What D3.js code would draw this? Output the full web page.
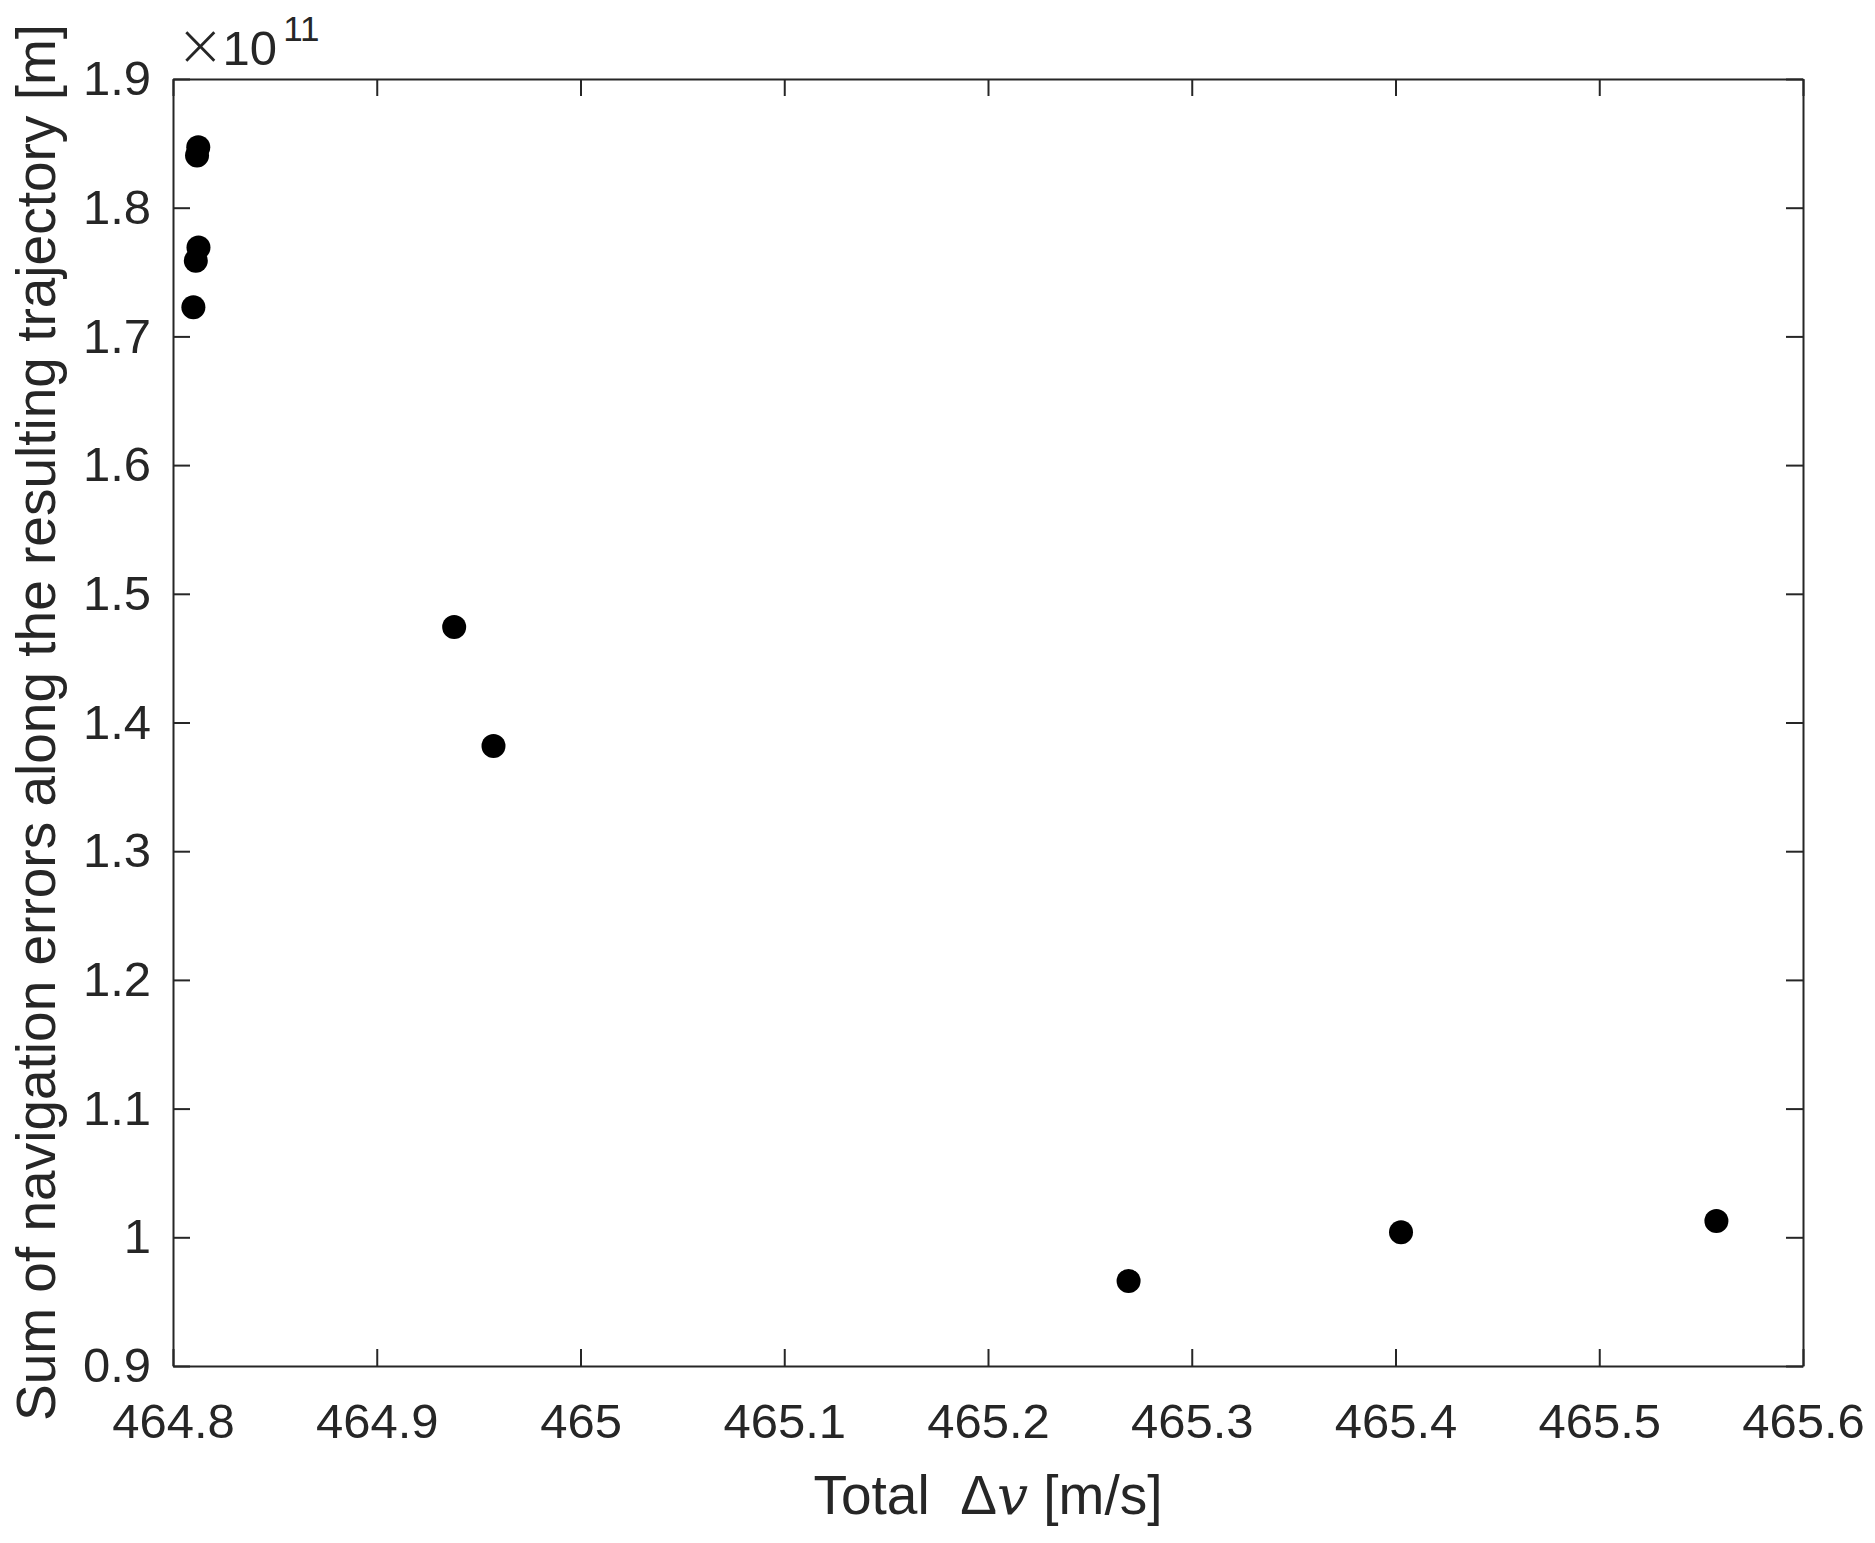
<!DOCTYPE html>
<html>
<head>
<meta charset="utf-8">
<script src="https://cdn.jsdelivr.net/npm/d3@7"></script>
<style>
  body { margin: 0; background: #fff; }
  text { font-family: "Liberation Sans", Arial, sans-serif; fill: #262626; }
</style>
</head>
<body>
<script>
// Pareto points
const deltaV = [464.8124, 464.8118, 464.8125, 464.8112, 464.8100,
    464.938, 464.9573, 465.269, 465.4027, 465.5575];
const navError = [1.847e11, 1.8406e11, 1.769e11, 1.7588e11, 1.7226e11,
    1.4742e11, 1.3817e11, 0.966e11, 1.0039e11, 1.0127e11];

const xTicks = [464.8, 464.9, 465, 465.1, 465.2, 465.3, 465.4, 465.5, 465.6];
const yTicks = [0.9e11, 1.0e11, 1.1e11, 1.2e11, 1.3e11, 1.4e11, 1.5e11, 1.6e11, 1.7e11, 1.8e11, 1.9e11];

const W = 1875, H = 1543;
const plotL = 173, plotR = 1803, plotT = 79, plotB = 1366;
const axisColor = '#262626';

const svg = d3.select('body').append('svg')
    .attr('width', W)
    .attr('height', H);

const x = d3.scaleLinear().domain([464.8, 465.6]).range([plotL, plotR]);
const y = d3.scaleLinear().domain([0.9e11, 1.9e11]).range([plotB, plotT]);

const fmtX = d => String(+d.toFixed(1));
const fmtY = d => String(+(d / 1e11).toFixed(1));

// bottom axis with labels
svg.append('g')
    .attr('transform', `translate(0,${plotB})`)
    .call(d3.axisBottom(x).tickValues(xTicks).tickFormat(fmtX)
      .tickSizeInner(-17).tickSizeOuter(0).tickPadding(37));

// top axis, ticks only
svg.append('g')
    .attr('transform', `translate(0,${plotT})`)
    .call(d3.axisTop(x).tickValues(xTicks).tickFormat('')
      .tickSizeInner(-17).tickSizeOuter(0));

// left axis with labels
svg.append('g')
    .attr('transform', `translate(${plotL},0)`)
    .call(d3.axisLeft(y).tickValues(yTicks).tickFormat(fmtY)
      .tickSizeInner(-17).tickSizeOuter(0).tickPadding(22));

// right axis, ticks only
svg.append('g')
    .attr('transform', `translate(${plotR},0)`)
    .call(d3.axisRight(y).tickValues(yTicks).tickFormat('')
      .tickSizeInner(-17).tickSizeOuter(0));

svg.selectAll('.domain, .tick line')
    .attr('stroke', axisColor)
    .attr('stroke-width', 2);
svg.selectAll('.tick text')
    .attr('font-size', 49)
    .attr('font-family', '"Liberation Sans", Arial, sans-serif')
    .attr('fill', axisColor);

// exponent label
const expo = svg.append('text')
    .attr('x', 176)
    .attr('y', 65)
    .attr('font-size', 49);
expo.append('tspan').attr('font-size', 58).attr('font-family', '"DejaVu Sans", sans-serif')
    .attr('font-weight', 200).text('\u00d7');
expo.append('tspan').attr('dx', -2).text('10');
expo.append('tspan').attr('font-size', 35).attr('dy', -24).attr('dx', 6).text('11');

// points
svg.append('g')
  .selectAll('circle')
  .data(deltaV)
  .enter()
  .append('circle')
    .attr('cx', d => x(d))
    .attr('cy', (d, i) => y(navError[i]))
    .attr('r', 12)
    .attr('fill', '#000');

// axis titles
const xt = svg.append('text')
    .attr('x', (plotL + plotR) / 2)
    .attr('y', 1514)
    .attr('text-anchor', 'middle')
    .attr('font-size', 55);
xt.append('tspan').text('Total\u00a0\u00a0\u0394');
xt.append('tspan').attr('font-style', 'italic').attr('font-family', '"DejaVu Serif", serif').text('v');
xt.append('tspan').text(' [m/s]');

svg.append('text')
    .attr('transform', `translate(55,${(plotT + plotB) / 2}) rotate(-90)`)
    .attr('text-anchor', 'middle')
    .attr('font-size', 55)
    .text('Sum of navigation errors along the resulting trajectory [m]');
</script>
</body>
</html>
